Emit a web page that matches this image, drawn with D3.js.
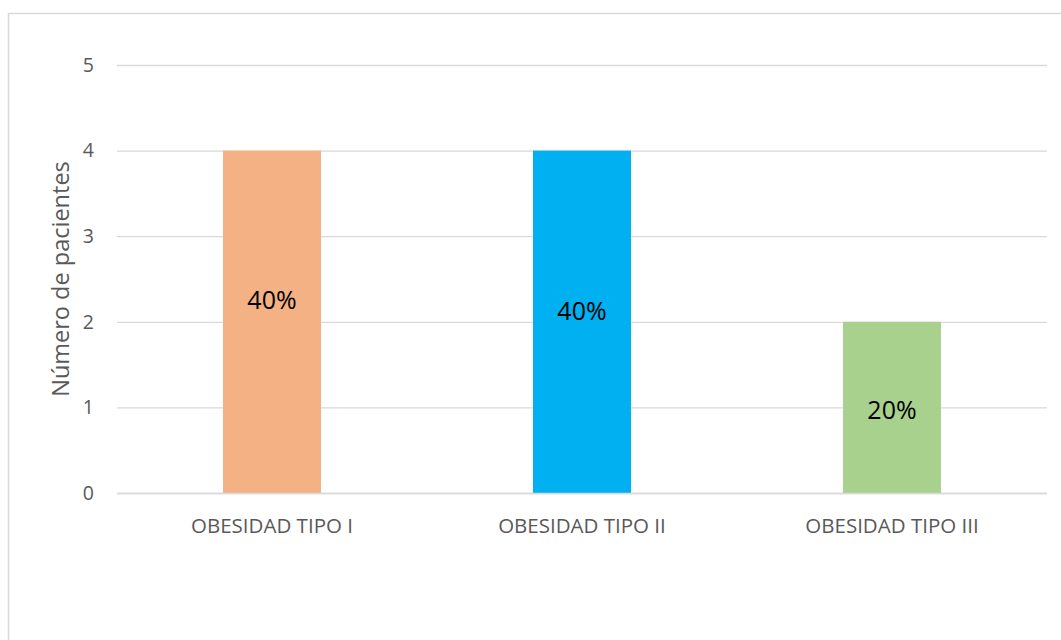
<!DOCTYPE html>
<html>
<head>
<meta charset="utf-8">
<script src="https://cdn.jsdelivr.net/npm/d3@7"></script>
<style>
  html, body { margin: 0; padding: 0; background: #fff; }
  svg { display: block; font-family: 'Open Sans', sans-serif; }
</style>
</head>
<body>
<svg id="chart" width="1061" height="640"></svg>
<script>
// data
const categories = ['OBESIDAD TIPO I', 'OBESIDAD TIPO II', 'OBESIDAD TIPO III'];
const values     = [4, 4, 2];
const labels     = ['40%', '40%', '20%'];
const labelAt    = [2.25, 2.12, 0.97];   // where the data labels sit, in axis units
const colors     = ['#f4b183', '#00b0f0', '#a9d18e'];
const yTicks     = [0, 1, 2, 3, 4, 5];

const W = 1061, H = 640;
const svg = d3.select('#chart');

// outer chart frame (runs off the right and bottom of the picture)
svg.append('rect')
  .attr('x', 8.5).attr('y', 13.5).attr('width', 1100).attr('height', 700)
  .attr('fill', 'none').attr('stroke', '#d9d9d9').attr('stroke-width', 1.5);

const plot = { left: 117, right: 1047, top: 65, bottom: 493 };

const x = d3.scaleBand().domain(categories).range([plot.left, plot.right]).padding(0);
const y = d3.scaleLinear().domain([0, 5]).range([plot.bottom, plot.top]);
const barW = x.bandwidth() * 0.316;

// gridlines
svg.append('g').selectAll('line').data(yTicks).join('line')
  .attr('x1', plot.left).attr('x2', plot.right)
  .attr('y1', d => y(d) + 0.5).attr('y2', d => y(d) + 0.5)
  .attr('stroke', '#d9d9d9').attr('stroke-width', 1.3);

// bars
svg.append('g').selectAll('rect').data(categories).join('rect')
  .attr('x', d => x(d) + x.bandwidth() / 2 - barW / 2)
  .attr('y', (d, i) => y(values[i]))
  .attr('width', barW)
  .attr('height', (d, i) => y(0) - y(values[i]))
  .attr('fill', (d, i) => colors[i]);

// baseline on top of bars
svg.append('line')
  .attr('x1', plot.left).attr('x2', plot.right)
  .attr('y1', y(0) + 0.5).attr('y2', y(0) + 0.5)
  .attr('stroke', '#d9d9d9').attr('stroke-width', 1.5);

// data labels
svg.append('g').selectAll('text').data(categories).join('text')
  .attr('x', d => x(d) + x.bandwidth() / 2)
  .attr('y', (d, i) => y(labelAt[i]))
  .attr('dy', '0.35em')
  .attr('text-anchor', 'middle')
  .attr('font-size', '25px').attr('fill', '#000')
  .text((d, i) => labels[i]);

// y axis ticks
const yAxis = svg.append('g')
  .attr('transform', `translate(${plot.left - 23},0)`)
  .call(d3.axisLeft(y).tickValues(yTicks).tickFormat(d3.format('d')).tickSize(0).tickPadding(0));
yAxis.select('.domain').remove();
yAxis.selectAll('text')
  .attr('font-family', "'Open Sans', sans-serif")
  .attr('font-size', '19.5px').attr('fill', '#595959');

// x axis labels
const xAxis = svg.append('g')
  .attr('transform', `translate(0,${plot.bottom})`)
  .call(d3.axisBottom(x).tickSize(0).tickPadding(25));
xAxis.select('.domain').remove();
xAxis.selectAll('text')
  .attr('font-family', "'Open Sans', sans-serif")
  .attr('font-size', '20.5px').attr('fill', '#595959');

// y axis title
svg.append('text')
  .attr('transform', `translate(61,${(plot.top + plot.bottom) / 2}) rotate(-90)`)
  .attr('text-anchor', 'middle').attr('dy', '0.35em')
  .attr('font-size', '23.5px').attr('fill', '#595959')
  .text('Número de pacientes');
</script>
</body>
</html>
